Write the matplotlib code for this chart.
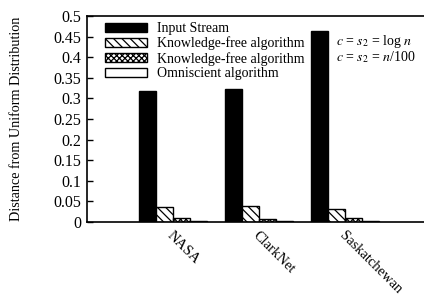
import matplotlib
matplotlib.use("Agg")
import matplotlib.pyplot as plt
import numpy as np

plt.rcParams['font.family'] = ['Liberation Serif', 'DejaVu Serif']
plt.rcParams['mathtext.fontset'] = 'stix'
plt.rcParams['hatch.linewidth'] = 0.9

categories = ["NASA", "ClarkNet", "Saskatchewan"]
series_names = ["Input Stream", "Knowledge-free algorithm", "Knowledge-free algorithm", "Omniscient algorithm"]
input_stream = [0.318, 0.322, 0.463]
kf_log = [0.037, 0.038, 0.031]
kf_n100 = [0.009, 0.008, 0.009]
omniscient = [0.002, 0.002, 0.0015]
yticks = [0, 0.05, 0.1, 0.15, 0.2, 0.25, 0.3, 0.35, 0.4, 0.45, 0.5]
ytick_labels = ["0", "0.05", "0.1", "0.15", "0.2", "0.25", "0.3", "0.35", "0.4", "0.45", "0.5"]

W, H = 424, 295
fig = plt.figure(figsize=(W/100, H/100), dpi=100)
ax = fig.add_axes([87/W, 1-222/H, 1-87/W, (222-16)/H])

x = np.arange(len(categories))
bw = 0.2
styles = [
    dict(color='black', edgecolor='black'),
    dict(facecolor='white', edgecolor='black', hatch='\\\\\\\\'),
    dict(facecolor='white', edgecolor='black', hatch='xxxxxx'),
    dict(facecolor='white', edgecolor='black'),
]
data = [input_stream, kf_log, kf_n100, omniscient]
for i, (vals, st) in enumerate(zip(data, styles)):
    ax.bar(x + (i - 1.5) * bw, vals, bw, linewidth=1.0, label=series_names[i], **st)

ax.set_xlim(-1, (W - 173) / 86)
ax.set_ylim(0, 0.5)
ax.set_yticks(yticks)
ax.set_yticklabels(ytick_labels, fontsize=11.5)
ax.tick_params(axis='y', direction='in', length=4, width=1, pad=4)
ax.set_xticks(x)
ax.set_xticklabels([])
ax.tick_params(axis='x', length=0)
for xi, lab in zip(x, categories):
    ax.annotate(lab, xy=(xi, 0), xycoords=('data', 'data'), xytext=(0.5, -5),
                textcoords='offset points', rotation=-45, rotation_mode='anchor',
                ha='left', va='top', fontsize=10.5)

ax.spines['right'].set_visible(False)
for s in ['left', 'top', 'bottom']:
    ax.spines[s].set_linewidth(1.2)

ax.set_ylabel("Distance from Uniform Distribution", fontsize=10.2)
ax.yaxis.set_label_coords(-(87-23)/(W-87), 0.5)

leg = ax.legend(loc='upper left', bbox_to_anchor=(0.03, 1.01), frameon=False,
                fontsize=10, handlelength=3.0, handleheight=0.6, labelspacing=0.1,
                handletextpad=0.7, borderaxespad=0.2)

ax.text(336/W, 1-42/H, "$c$ = $s_2$ = log $n$", transform=fig.transFigure, fontsize=10,
        ha='left', va='center')
ax.text(336/W, 1-57/H, "$c$ = $s_2$ = $n$/100", transform=fig.transFigure, fontsize=10,
        ha='left', va='center')

fig.savefig("out.png", dpi=100)
